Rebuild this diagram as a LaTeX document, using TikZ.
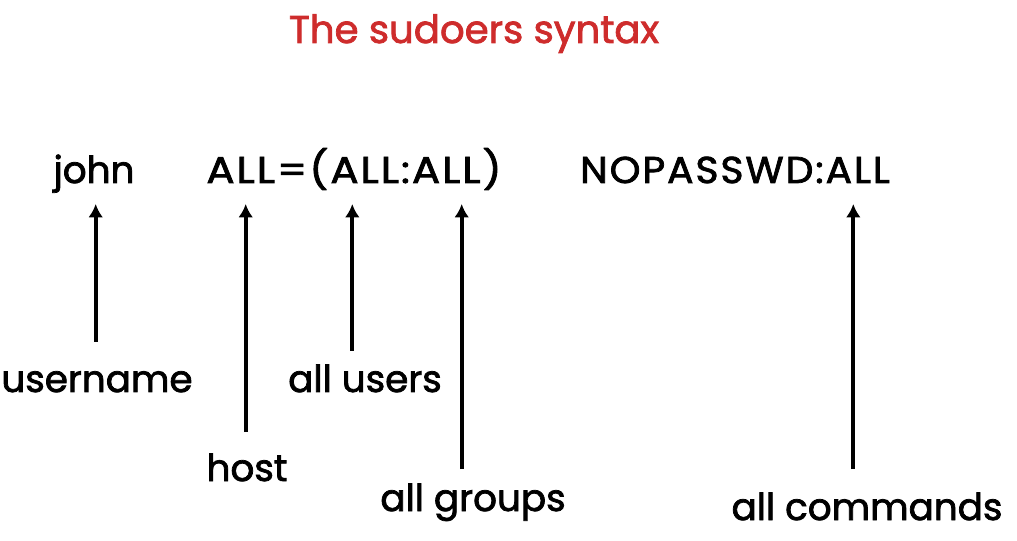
\documentclass[tikz,border=0pt]{standalone}
\usepackage{fontspec}
\setmainfont{Poppins}[FakeBold=2]
\usepackage{tikz}
\usetikzlibrary{shapes,arrows,arrows.meta,positioning}
\definecolor{titlered}{RGB}{206,44,44}

\begin{document}
\begin{tikzpicture}[x=0.75pt, y=-0.75pt, auto,
        word/.style={inner sep=0pt, font=\fontsize{28}{34}\selectfont},
        caps/.style={word, font=\fontsize{28}{34}\selectfont\addfontfeatures{LetterSpace=5}},
        title/.style={word, text=titlered, font=\fontsize{29}{35}\selectfont},
        line/.style={draw, line width=2.8pt, -{Latex[length=10pt,width=11pt]}}
    ]
        \useasboundingbox (0,0) rectangle (1017,541);
        % Title
        \node[title, anchor=base] (title) at (474,43) {The sudoers syntax};
        % Sudoers line
        \node[word, anchor=base] (user) at (94,183) {john};
        \node[caps, anchor=base] (spec) at (354,183) {\scalebox{1.12}[1]{ALL=(ALL:ALL)}};
        \node[caps, anchor=base] (tags) at (735,183) {\scalebox{1.05}[1]{NOPASSWD:ALL}};
        % Labels
        \node[word, anchor=base] (username) at (97,392) {username};
        \node[word, anchor=base] (host) at (247,481) {host};
        \node[word, anchor=base] (users) at (365,392) {all users};
        \node[word, anchor=base] (groups) at (473,511) {all groups};
        \node[word, anchor=base] (commands) at (867,520) {all commands};
        % Arrow ends
        \coordinate (usernameTip) at (95.7,204);
        \coordinate (usernameEnd) at (95.7,342);
        \coordinate (hostTip) at (245.7,204);
        \coordinate (hostEnd) at (245.7,432);
        \coordinate (usersTip) at (352.3,204);
        \coordinate (usersEnd) at (352.3,351);
        \coordinate (groupsTip) at (461.7,204);
        \coordinate (groupsEnd) at (461.7,469);
        \coordinate (commandsTip) at (853.3,204);
        \coordinate (commandsEnd) at (853.3,469);
        % Connections
        \path[line] (usernameEnd) -- (usernameTip);
        \path[line] (hostEnd) -- (hostTip);
        \path[line] (usersEnd) -- (usersTip);
        \path[line] (groupsEnd) -- (groupsTip);
        \path[line] (commandsEnd) -- (commandsTip);
\end{tikzpicture}
\end{document}
